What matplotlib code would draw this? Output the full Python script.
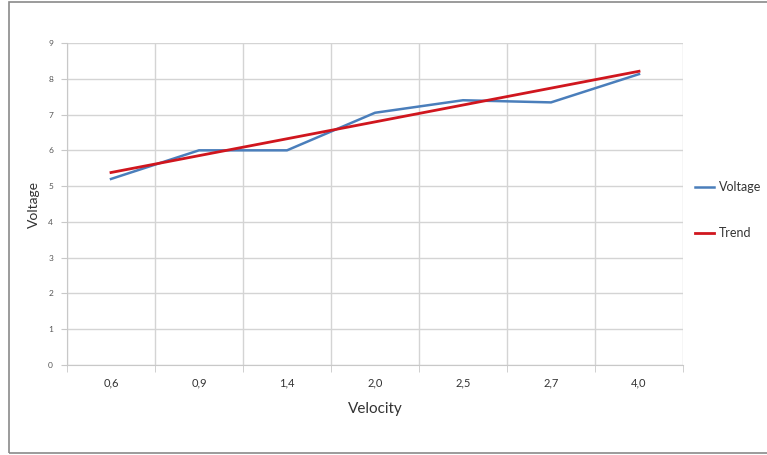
import matplotlib.pyplot as plt
from matplotlib.patches import Rectangle
from matplotlib.lines import Line2D

# velocity categories and measured voltage
velocity = ["0,6", "0,9", "1,4", "2,0", "2,5", "2,7", "4,0"]
voltage = [5.2, 6.0, 6.0, 7.05, 7.4, 7.34, 8.13]
# linear trend line, first and last category
trend_ends = [5.38, 8.21]

plt.rcParams['font.family'] = ['Lato', 'DejaVu Sans']

fig = plt.figure(figsize=(7.67, 4.55), dpi=100)
fig.patches.append(Rectangle((9 / 767, 2 / 455), 1.0, 451 / 455, transform=fig.transFigure,
                             fill=False, edgecolor="#8a8a8a", linewidth=1.2))

ax = fig.add_axes([67 / 767, 1 - 365 / 455, 616 / 767, 322 / 455])
xs = list(range(len(velocity)))

ax.plot(xs, voltage, color="#4a7ebb", linewidth=1.8, label="Voltage")
ax.plot([xs[0], xs[-1]], trend_ends, color="#d0161e", linewidth=2.0, label="Trend")

ax.set_xlim(-0.5, len(velocity) - 0.5)
ax.set_ylim(0, 9)
ax.set_yticks(range(0, 10))
ax.set_xticks(xs)
ax.set_xticklabels(velocity)
ax.set_xticks([x + 0.5 for x in range(-1, len(velocity))], minor=True)

ax.grid(True, axis="y", color="#d4d4d4", linewidth=1.0)
ax.grid(True, axis="x", which="minor", color="#d4d4d4", linewidth=1.0)
ax.set_axisbelow(True)

for side in ["top", "right"]:
    ax.spines[side].set_visible(False)
for side in ["left", "bottom"]:
    ax.spines[side].set_color("#c8c8c8")

ax.tick_params(axis="y", length=4, color="#c8c8c8", labelsize=6, labelcolor="#555555", pad=6)
ax.tick_params(axis="x", which="major", length=0, labelsize=8, labelcolor="#333333", pad=9)
ax.tick_params(axis="x", which="minor", length=5, color="#c8c8c8")

ax.set_xlabel("Velocity", fontsize=11, color="#333333", labelpad=10)
ax.set_ylabel("Voltage", fontsize=10, color="#333333", labelpad=6)

handles = [Line2D([], [], color="#4a7ebb", linewidth=1.8),
           Line2D([], [], color="#d0161e", linewidth=2.0)]
fig.legend(handles, ["Voltage", "Trend"], loc="center left",
           bbox_to_anchor=(684 / 767, 1 - 210 / 455), frameon=False,
           fontsize=9, handlelength=1.5, handletextpad=0.4, labelspacing=2.7,
           labelcolor="#333333")

fig.savefig("out.png", dpi=100)
